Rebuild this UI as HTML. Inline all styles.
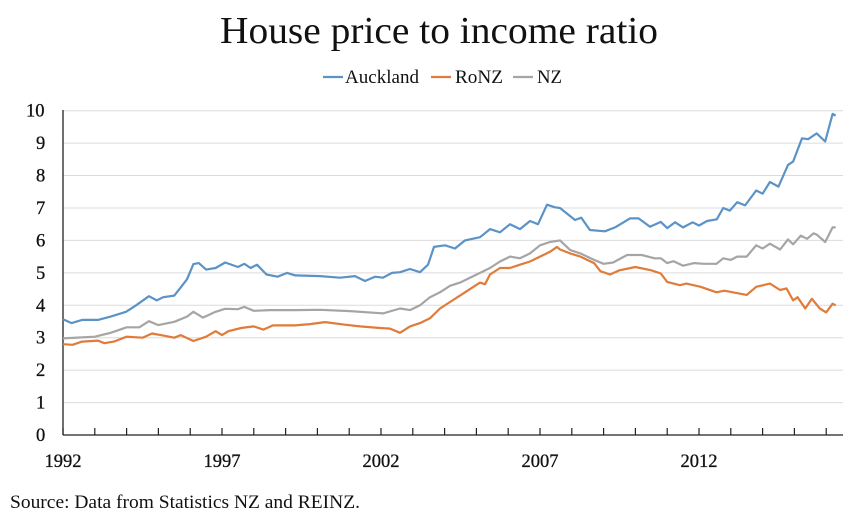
<!DOCTYPE html>
<html><head><meta charset="utf-8">
<style>
body{margin:0;background:#fff;width:867px;height:524px;overflow:hidden}
svg{display:block}
text{font-family:"Liberation Serif",serif;fill:#111}
</style></head><body>
<svg id="s" width="867" height="524" xmlns="http://www.w3.org/2000/svg">
<text x="439" y="43" font-size="38" text-anchor="middle" textLength="438" lengthAdjust="spacingAndGlyphs">House price to income ratio</text>
<line x1="323" y1="77" x2="343" y2="77" stroke="#5b93c7" stroke-width="2.2"/>
<text x="345" y="83" font-size="18.5" textLength="74" lengthAdjust="spacingAndGlyphs">Auckland</text>
<line x1="431" y1="77" x2="451" y2="77" stroke="#e07b39" stroke-width="2.2"/>
<text x="455" y="83" font-size="18.5" textLength="48" lengthAdjust="spacingAndGlyphs">RoNZ</text>
<line x1="513" y1="77" x2="533" y2="77" stroke="#a5a5a5" stroke-width="2.2"/>
<text x="537" y="83" font-size="18.5" textLength="25" lengthAdjust="spacingAndGlyphs">NZ</text>
<g id="grid"></g>
<g id="series"></g>
<text x="10" y="508" font-size="18.5" textLength="350" lengthAdjust="spacingAndGlyphs">Source: Data from Statistics NZ and REINZ.</text>
</svg>
<script>
var X0=63,XS=31.8,Y0=435,YS=32.43;
function px(y){return X0+(y-1992)*XS}
function py(v){return Y0-v*YS}
var g=document.getElementById('grid'),h='';
for(var i=0;i<=10;i++){var y=py(i);
 if(i>0)h+='<line x1="63" y1="'+y+'" x2="843" y2="'+y+'" stroke="#dcdcdc" stroke-width="1"/>';
 h+='<text x="'+(i==10?26:36)+'" y="'+(y+6)+'" font-size="18.5" stroke="#111" stroke-width="0.3">'+i+'</text>';}
h+='<line x1="63" y1="110" x2="63" y2="435" stroke="#222" stroke-width="1.3"/>';
h+='<line x1="63" y1="435" x2="843" y2="435" stroke="#222" stroke-width="1.3"/>';
for(var k=0;k<=24;k++){var x=px(1992+k);h+='<line x1="'+x+'" y1="428" x2="'+x+'" y2="435" stroke="#222" stroke-width="1.2"/>';}
[1992,1997,2002,2007,2012].forEach(function(yr){h+='<text x="'+px(yr)+'" y="467" font-size="18.5" text-anchor="middle" stroke="#111" stroke-width="0.3">'+yr+'</text>';});
g.innerHTML=h;
function xy(x){return (x-63)/31.8+1992}
var A=[[1992,3.57],[1992.27,3.45],[1992.6,3.55],[1993.1,3.55],[1993.5,3.65],[1993.98,3.8],[1994.3,4.0],[1994.7,4.28],[1994.95,4.15],[1995.15,4.25],[1995.5,4.3],[1995.7,4.55],[1995.9,4.8],[1996.1,5.27],[1996.27,5.3],[1996.5,5.1],[1996.8,5.15],[1997.1,5.32],[1997.5,5.18],[1997.7,5.28],[1997.9,5.15],[1998.1,5.25],[1998.4,4.95],[1998.75,4.88],[1999.05,5.0],[1999.3,4.92],
[xy(320),4.9],[xy(340),4.85],[xy(355),4.9],[xy(365),4.75],[xy(375),4.88],[xy(383),4.85],[xy(392),5.0],[xy(400),5.02],[xy(410),5.12],[xy(420),5.02],[xy(428),5.25],[xy(434),5.8],[xy(445),5.85],[xy(455),5.75],[xy(465),6.0],[xy(480),6.1],[xy(490),6.35],[xy(500),6.25],[xy(510),6.5],[xy(520),6.35],[xy(530),6.6],[xy(538),6.5],[xy(547),7.1],[xy(555),7.02],
[2007.63,7.0],[2008.1,6.63],[2008.3,6.7],[2008.57,6.32],[2009.04,6.28],[2009.36,6.4],[2009.83,6.68],[2010.1,6.68],[2010.46,6.42],[2010.8,6.57],[2011.0,6.38],[2011.25,6.56],[2011.5,6.4],[2011.8,6.56],[2012.0,6.46],[2012.25,6.6],[2012.56,6.65],[2012.76,7.0],[2012.97,6.92],[2013.2,7.18],[2013.45,7.08],[2013.8,7.54],[2014.0,7.44],[2014.23,7.8],[2014.5,7.66],[2014.8,8.33],[2014.96,8.43],[2015.24,9.15],[2015.43,9.12],[2015.7,9.3],[2015.97,9.05],[2016.2,9.9],[2016.3,9.85]];
var N=[[1992,2.98],[1993,3.03],[1993.5,3.15],[1994,3.32],[1994.4,3.32],[1994.7,3.51],[1995,3.39],[1995.5,3.49],[1995.9,3.65],[1996.1,3.8],[1996.4,3.62],[1996.8,3.8],[1997.1,3.89],[1997.5,3.88],[1997.7,3.95],[1998,3.83],[1998.5,3.85],[1999.3,3.85],
[xy(320),3.86],[xy(350),3.82],[xy(383),3.75],[xy(400),3.9],[xy(410),3.85],[xy(420),4.0],[xy(430),4.25],[xy(440),4.4],[xy(450),4.6],[xy(460),4.7],[xy(470),4.85],[xy(480),5.0],[xy(490),5.15],[xy(500),5.35],[xy(510),5.5],[xy(520),5.45],[xy(530),5.6],[xy(540),5.85],[xy(550),5.95],
[2007.63,6.0],[2007.95,5.7],[2008.27,5.6],[2008.7,5.4],[2009.0,5.28],[2009.3,5.32],[2009.74,5.55],[2010.2,5.55],[2010.6,5.45],[2010.8,5.45],[2011.0,5.3],[2011.2,5.36],[2011.5,5.22],[2011.85,5.3],[2012.15,5.28],[2012.55,5.28],[2012.76,5.45],[2013,5.4],[2013.2,5.5],[2013.5,5.5],[2013.8,5.85],[2014,5.75],[2014.23,5.9],[2014.55,5.72],[2014.8,6.03],[2014.96,5.88],[2015.2,6.15],[2015.4,6.05],[2015.6,6.22],[2015.7,6.18],[2015.97,5.95],[2016.2,6.4],[2016.3,6.4]];
var R=[[1992,2.8],[1992.3,2.78],[1992.6,2.88],[1993.1,2.91],[1993.3,2.83],[1993.6,2.88],[1994,3.03],[1994.5,3.0],[1994.8,3.13],[1995.2,3.06],[1995.5,3.0],[1995.7,3.08],[1996.1,2.9],[1996.5,3.03],[1996.8,3.2],[1997.0,3.08],[1997.2,3.2],[1997.6,3.3],[1998,3.35],[1998.3,3.25],[1998.6,3.38],[1999.3,3.38],
[xy(310),3.42],[xy(325),3.48],[xy(345),3.4],[xy(360),3.35],[xy(380),3.3],[xy(390),3.28],[xy(400),3.15],[xy(410),3.35],[xy(420),3.45],[xy(430),3.6],[xy(440),3.9],[xy(450),4.1],[xy(460),4.3],[xy(470),4.5],[xy(480),4.7],[xy(485),4.65],[xy(490),4.95],[xy(500),5.15],[xy(510),5.15],[xy(520),5.25],[xy(530),5.35],[xy(540),5.5],[xy(550),5.65],[xy(557),5.8],
[2007.63,5.72],[2007.95,5.6],[2008.27,5.5],[2008.7,5.3],[2008.9,5.05],[2009.2,4.95],[2009.5,5.08],[2010.0,5.18],[2010.5,5.08],[2010.8,4.98],[2011.0,4.72],[2011.4,4.62],[2011.6,4.67],[2012.05,4.57],[2012.55,4.4],[2012.8,4.45],[2013.5,4.32],[2013.8,4.57],[2014.23,4.67],[2014.55,4.47],[2014.75,4.52],[2014.96,4.15],[2015.1,4.25],[2015.34,3.9],[2015.55,4.2],[2015.8,3.9],[2016.0,3.78],[2016.2,4.05],[2016.3,4.0]];
function pl(d,c){return '<polyline fill="none" stroke="'+c+'" stroke-width="2.2" stroke-linejoin="round" points="'+d.map(function(p){return px(p[0]).toFixed(1)+','+py(p[1]).toFixed(1)}).join(' ')+'"/>'}
document.getElementById('series').innerHTML=pl(N,'#a5a5a5')+pl(R,'#e07b39')+pl(A,'#5b93c7');
</script>
</body></html>
